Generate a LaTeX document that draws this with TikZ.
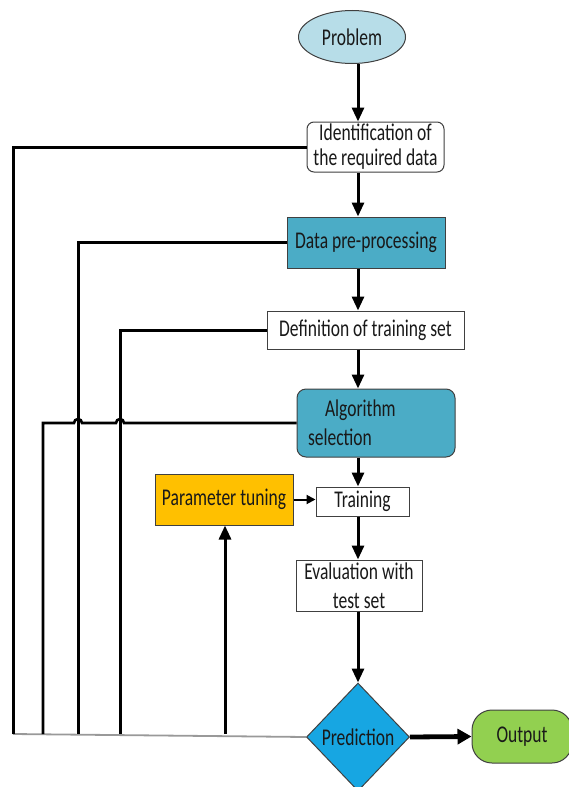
\documentclass[tikz,border=0pt]{standalone}
\usepackage{fontspec}
\setmainfont{Carlito}[FakeStretch=0.73]
\usetikzlibrary{shapes.geometric,arrows.meta}
\definecolor{probblue}{HTML}{B7DDE8}
\definecolor{stepteal}{HTML}{4BACC6}
\definecolor{tuneorange}{HTML}{FFC000}
\definecolor{predblue}{HTML}{17A6E2}
\definecolor{outgreen}{HTML}{92D050}
\begin{document}
\begin{tikzpicture}[x=1pt,y=-1pt,
    every node/.style={font=\fontsize{24}{29}\selectfont, text=black!90, draw=black!75, line width=1pt, inner sep=0pt, align=center},
    stepbox/.style={rectangle, fill=white},
    flow/.style={line width=3pt, -{Triangle[width=12pt,length=14pt]}},
    back/.style={line width=3pt}]
  \useasboundingbox (0,0) rectangle (568,787);
  \node[ellipse, fill=probblue, minimum width=107pt, minimum height=53pt] (prob) at (352,37) {Problem};
  \node[stepbox, rounded corners=7pt, minimum width=137pt, minimum height=50pt, font=\fontsize{24}{25}\selectfont] (ident) at (375.5,147) {Identification of\\the required data};
  \node[stepbox, fill=stepteal, minimum width=158pt, minimum height=51pt] (prep) at (366,242.5) {Data pre-processing};
  \node[stepbox, minimum width=197pt, minimum height=38pt] (defn) at (365.5,330) {Definition of training set};
  \node[stepbox, fill=stepteal, rounded corners=9pt, minimum width=158pt, minimum height=68pt, inner xsep=11pt, text width=136pt, align=left] (algo) at (376,423) {\hspace*{17pt}Algorithm\\selection};
  \node[stepbox, fill=tuneorange, minimum width=138pt, minimum height=51pt] (tune) at (224,499.5) {Parameter tuning};
  \node[stepbox, minimum width=93pt, minimum height=29pt] (train) at (362.5,501.5) {Training};
  \node[stepbox, minimum width=126pt, minimum height=51pt] (eval) at (359,585.5) {Evaluation with\\test set};
  \node[diamond, fill=predblue, minimum width=103pt, minimum height=108pt] (pred) at (358,737) {Prediction};
  \node[rectangle, rounded corners=20pt, fill=outgreen, minimum width=100pt, minimum height=53pt] (out) at (522,736.5) {Output};

  \coordinate (r1) at (13,734);
  \coordinate (r2) at (78,734);
  \coordinate (r3) at (120,734);
  \coordinate (r4) at (43,734);
  \coordinate (r5) at (225,734);

  \draw[flow] (prob.south -| pred) -- (ident.north -| pred);
  \draw[flow] (ident.south -| pred) -- (prep.north -| pred);
  \draw[flow] (prep.south -| pred) -- (defn.north -| pred);
  \draw[flow] (defn.south -| pred) -- (algo.north -| pred);
  \draw[flow] (algo.south -| pred) -- (train.north -| pred);
  \draw[flow] (train.south -| pred) -- (eval.north -| pred);
  \draw[flow] (eval.south -| pred) -- (pred.north);
  \draw[line width=2pt, -{Triangle[width=9pt,length=9pt]}] (tune.east) -- (tune.east -| train.west);
  \draw[line width=4.8pt, -{Triangle[width=15pt,length=14pt]}] (pred.east) -- (out.west);

  \draw[gray!80, line width=1.8pt] (r1) -- (pred.west);
  \draw[back] (ident.west) -| (r1);
  \draw[back] (prep.west) -| (r2);
  \draw[back] (defn.west) -| (r3);
  \draw[line width=2.6pt] (algo.west) -- ([xshift=4pt]algo.west -| r3) arc (0:-180:4) -- ([xshift=4pt]algo.west -| r2) arc (0:-180:4) -| (r4);
  \draw[flow] (r5) -- (r5 |- tune.south);
\end{tikzpicture}
\end{document}
